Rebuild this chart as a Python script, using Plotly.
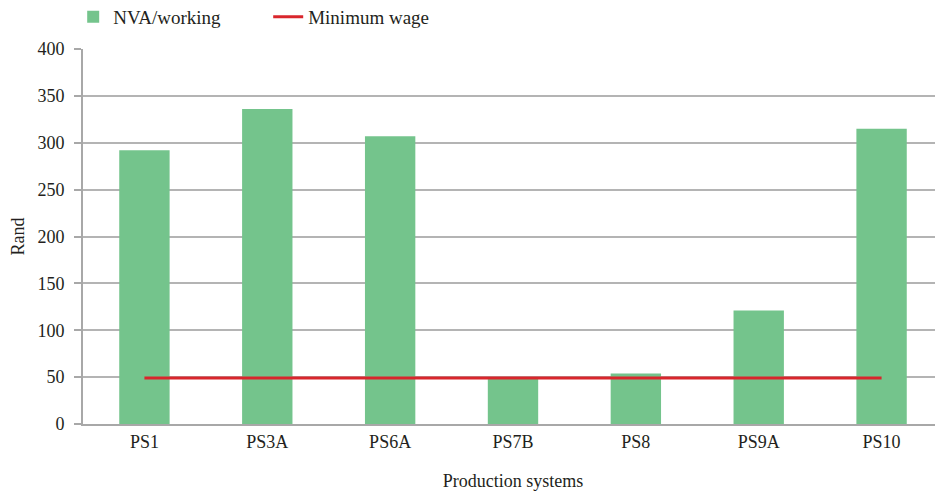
import plotly.graph_objects as go

# values
systems = ["PS1", "PS3A", "PS6A", "PS7B", "PS8", "PS9A", "PS10"]
nva_working = [292, 336, 307, 48, 54, 121, 315]
minimum_wage = [49, 49, 49, 49, 49, 49, 49]

font_name = "Liberation Serif"
grid_col = "#b4b4b4"

fig = go.Figure()

fig.add_trace(go.Bar(
    x=systems, y=nva_working, name="NVA/working",
    marker=dict(color="#74c48c", line=dict(width=0)),
    width=0.41,
))

fig.add_trace(go.Scatter(
    x=systems, y=minimum_wage, name="Minimum wage",
    mode="lines", line=dict(color="#d9262c", width=3),
))

# page body has an 8px default margin, so the figure is a bit smaller
fig.update_layout(
    width=935, height=483,
    margin=dict(l=75, r=0, t=41, b=67, autoexpand=False),
    paper_bgcolor="white", plot_bgcolor="white",
    font=dict(family=font_name, size=18, color="#231f20"),
    showlegend=True,
    legend=dict(
        orientation="h", x=-0.0114, y=1.136, xref="paper", yref="paper",
        xanchor="left", yanchor="top",
        entrywidth=150, entrywidthmode="pixels",
        font=dict(family=font_name, size=19, color="#231f20"),
        bgcolor="rgba(0,0,0,0)",
    ),
)

fig.update_xaxes(
    title=dict(text="Production systems", font=dict(size=18), standoff=30),
    showline=True, linecolor="#a8a8a8", linewidth=2,
    ticks="", showgrid=False, automargin=False,
    tickfont=dict(size=18),
)

fig.update_yaxes(
    title=dict(text="Rand", font=dict(size=18), standoff=29),
    range=[0, 400], dtick=50, tick0=0, automargin=False,
    showgrid=True, gridcolor=grid_col, gridwidth=1.5,
    showline=True, linecolor="#a8a8a8", linewidth=2,
    ticks="outside", ticklen=7, tickcolor="#a8a8a8", tickwidth=1.5,
    ticklabelstandoff=6,
    tickfont=dict(size=18),
    zeroline=False,
)

fig.write_html("out.html")
